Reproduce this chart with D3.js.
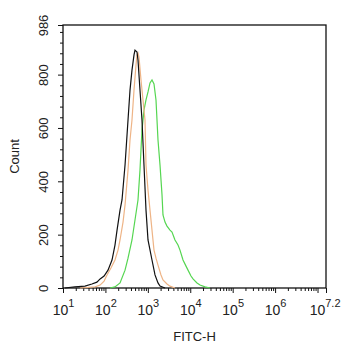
<!DOCTYPE html>
<html lang="en">
<head>
<meta charset="UTF-8">
<title>FITC-H histogram</title>
<script src="https://cdn.jsdelivr.net/npm/d3@7"></script>
<style>
	body { margin: 0; background: #fff; }
	svg { display: block; font-family: "Liberation Sans", Arial, sans-serif; }
</style>
</head>
<body>
<svg id="chart"></svg>
<script>
// FITC-H values (linear units) and counts
var blackX = [11, 19, 33, 48, 63, 75, 93, 115, 143, 168, 188, 221, 246, 290, 341, 380, 423, 472, 498, 555, 586, 653, 728, 811, 905, 1009, 1253, 1475, 1736, 1936, 2537];
var blackCount = [0, 4, 7, 15, 22, 34, 45, 67, 105, 161, 217, 292, 330, 461, 630, 742, 817, 874, 892, 885, 855, 742, 630, 461, 292, 180, 105, 49, 19, 7, 0];

var orangeX = [25, 57, 75, 93, 109, 135, 168, 198, 221, 260, 290, 341, 380, 423, 472, 526, 555, 586, 619, 690, 769, 857, 905, 1009, 1125, 1253, 1397, 1557, 1736, 2042, 2276, 2829, 3327, 4365];
var orangeCount = [0, 4, 11, 26, 49, 75, 105, 142, 180, 247, 311, 442, 555, 630, 742, 836, 874, 881, 866, 780, 705, 630, 461, 367, 292, 217, 142, 112, 86, 49, 30, 15, 7, 0];

var greenX = [128, 168, 221, 290, 341, 423, 498, 586, 653, 728, 811, 905, 1009, 1125, 1253, 1397, 1557, 1644, 1736, 1936, 2158, 2276, 2537, 2829, 3327, 3714, 4365, 5140, 5728, 6745, 7943, 8851, 10400, 11610, 14420, 16980, 22240, 29170];
var greenCount = [0, 4, 19, 67, 112, 180, 255, 330, 442, 592, 667, 705, 735, 769, 780, 765, 705, 630, 555, 461, 349, 274, 247, 232, 217, 210, 180, 161, 142, 105, 82, 67, 45, 34, 19, 11, 4, 0];

// tick exponents; the 10^7 tick carries no label, the end tick reads 10^7.2
var xExponents = ["1", "2", "3", "4", "5", "6", "7", "7.2"];
var xLabels = ["1", "2", "3", "4", "5", "6", "", "7.2"];
var yTicks = [0, 200, 400, 600, 800, 986];
var yMinorTicks = [40, 80, 120, 160, 240, 280, 320, 360, 440, 480, 520, 560, 640, 680, 720, 760, 840, 880, 920, 960];

var series = [
	{ name: "black", x: blackX, y: blackCount, color: "#111111" },
	{ name: "orange", x: orangeX, y: orangeCount, color: "#eeb486" },
	{ name: "green", x: greenX, y: greenCount, color: "#55d651" }
];

var width = 342, height = 350;
var margin = { top: 25, left: 63, right: 16, bottom: 62 };
var chartW = width - margin.left - margin.right;
var chartH = height - margin.top - margin.bottom;

var svg = d3.select("#chart").attr("width", width).attr("height", height);

var xScale = d3.scaleLog()
	.domain([10, Math.pow(10, 7.2)])
	.range([0, chartW]);
var yScale = d3.scaleLinear()
	.domain([0, 986])
	.range([chartH, 0]);

var plot = svg.append("g")
	.attr("transform", "translate(" + margin.left + "," + margin.top + ")");

/* minor ticks */
var xMinor = [];
for (var e = 1; e < 8; e++) {
	for (var m = 2; m <= 9; m++) {
		var v = m * Math.pow(10, e);
		if (v < xScale.domain()[1]) xMinor.push(v);
	}
}
plot.append("g")
	.attr("class", "minor")
	.attr("transform", "translate(0," + chartH + ")")
	.call(d3.axisBottom(xScale).tickValues(xMinor).tickSize(3).tickFormat(""));
plot.append("g")
	.attr("class", "minor")
	.call(d3.axisLeft(yScale).tickValues(yMinorTicks).tickSize(3).tickFormat(""));

/* major axes */
var xMajor = xExponents.map(function(d) { return Math.pow(10, +d); });
var xAxis = plot.append("g")
	.attr("transform", "translate(0," + chartH + ")")
	.call(d3.axisBottom(xScale).tickValues(xMajor).tickSize(5).tickSizeOuter(0).tickFormat(""));
xAxis.selectAll(".tick").each(function(d, i) {
	if (!xLabels[i]) return;
	var last = i === xLabels.length - 1;
	var t = d3.select(this).append("text")
		.attr("x", last ? 14 : 0)
		.attr("y", 27)
		.attr("fill", "#222")
		.attr("text-anchor", last ? "end" : "middle")
		.style("font-size", "14px");
	t.append("tspan").text("10");
	t.append("tspan")
		.attr("dy", -8)
		.style("font-size", "11px")
		.text(xLabels[i]);
});

var yAxis = plot.append("g")
	.call(d3.axisLeft(yScale).tickValues(yTicks).tickSize(5).tickSizeOuter(0));
yAxis.selectAll(".tick text")
	.attr("fill", "#222")
	.style("font-size", "13px")
	.attr("x", 0)
	.attr("dy", 0)
	.attr("text-anchor", "middle")
	.attr("transform", "translate(-15,0) rotate(-90)");

plot.selectAll(".domain").remove();
plot.selectAll(".tick line").attr("stroke", "#111");

/* frame */
plot.append("rect")
	.attr("width", chartW)
	.attr("height", chartH)
	.attr("fill", "none")
	.attr("stroke", "#111")
	.attr("stroke-width", 1.3);

/* histogram lines */
var line = d3.line()
	.x(function(d) { return xScale(d[0]); })
	.y(function(d) { return yScale(d[1]); });

plot.selectAll("path.curve")
	.data(series.slice().reverse())
	.enter()
	.append("path")
	.attr("class", "curve")
	.attr("fill", "none")
	.attr("stroke", function(d) { return d.color; })
	.attr("stroke-width", 1.2)
	.attr("d", function(d) {
		return line(d.x.map(function(x, i) { return [x, d.y[i]]; }));
	});

/* axis titles */
svg.append("text")
	.attr("x", margin.left + chartW / 2)
	.attr("y", 341)
	.attr("text-anchor", "middle")
	.attr("fill", "#222")
	.style("font-size", "13px")
	.text("FITC-H");
svg.append("text")
	.attr("transform", "translate(19," + (margin.top + chartH / 2) + ") rotate(-90)")
	.attr("text-anchor", "middle")
	.attr("fill", "#222")
	.style("font-size", "13px")
	.text("Count");
</script>
</body>
</html>
